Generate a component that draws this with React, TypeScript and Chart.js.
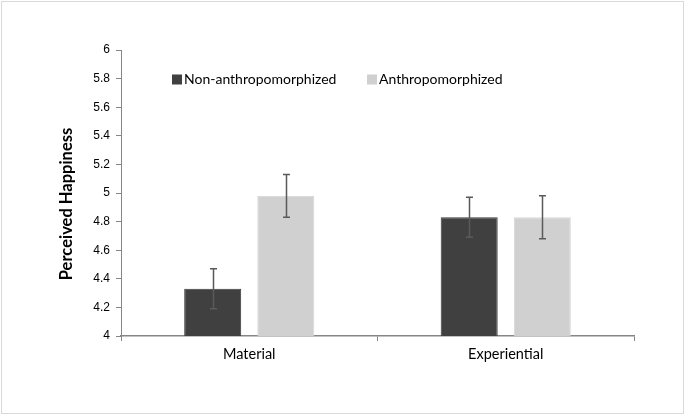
import React, { useEffect, useRef } from "react";
import { Chart, registerables } from "chart.js";

Chart.register(...registerables);

const categories = ["Material", "Experiential"];
const seriesNames = ["Non-anthropomorphized", "Anthropomorphized"];
const nonAnthro = [4.33, 4.83];
const anthro = [4.98, 4.83];
const nonAnthroLow = [4.19, 4.69];
const nonAnthroHigh = [4.47, 4.97];
const anthroLow = [4.83, 4.68];
const anthroHigh = [5.13, 4.98];
const yTicks = [4, 4.2, 4.4, 4.6, 4.8, 5, 5.2, 5.4, 5.6, 5.8, 6];
const yTitle = "Perceived Happiness";

const colors = ["#404040", "#d0d0d0"];
const errLow = [nonAnthroLow, anthroLow];
const errHigh = [nonAnthroHigh, anthroHigh];

const framePlugin = {
  id: "frame",
  beforeDraw(chart: any) {
    const ctx = chart.ctx;
    ctx.save();
    ctx.fillStyle = "#ffffff";
    ctx.fillRect(0, 0, chart.width, chart.height);
    ctx.strokeStyle = "#d9d9d9";
    ctx.lineWidth = 1;
    ctx.strokeRect(1.5, 1.5, chart.width - 3, chart.height - 3);
    ctx.restore();
  },
};

const errorBarPlugin = {
  id: "errorBars",
  afterDatasetsDraw(chart: any) {
    const ctx = chart.ctx;
    const yScale = chart.scales.y;
    ctx.save();
    ctx.strokeStyle = "#5a5a5a";
    ctx.lineWidth = 1.5;
    chart.data.datasets.forEach((ds: any, di: number) => {
      const meta = chart.getDatasetMeta(di);
      meta.data.forEach((bar: any, i: number) => {
        const x = Math.round(bar.x) + 0.5;
        const yt = yScale.getPixelForValue(errHigh[di][i]);
        const yb = yScale.getPixelForValue(errLow[di][i]);
        ctx.beginPath();
        ctx.moveTo(x, yt);
        ctx.lineTo(x, yb);
        ctx.moveTo(x - 3.5, yt);
        ctx.lineTo(x + 3.5, yt);
        ctx.moveTo(x - 3.5, yb);
        ctx.lineTo(x + 3.5, yb);
        ctx.stroke();
      });
    });
    ctx.restore();
  },
};

const legendPlugin = {
  id: "customLegend",
  afterDraw(chart: any) {
    const ctx = chart.ctx;
    ctx.save();
    ctx.font = "14px Lato";
    ctx.textBaseline = "middle";
    ctx.fillStyle = "#000000";
    const starts = [172, 367];
    const cy = 79.5;
    chart.data.datasets.forEach((ds: any, di: number) => {
      const x = starts[di];
      ctx.fillStyle = ds.backgroundColor;
      ctx.fillRect(x, cy - 5, 10, 10);
      ctx.fillStyle = "#000000";
      ctx.fillText(ds.label, x + 12, cy);
    });
    ctx.restore();
  },
};

const yTitlePlugin = {
  id: "yTitle",
  afterDraw(chart: any) {
    const ctx = chart.ctx;
    ctx.save();
    ctx.translate(67, 204);
    ctx.rotate(-Math.PI / 2);
    ctx.font = "bold 16.5px Lato";
    ctx.textAlign = "center";
    ctx.textBaseline = "middle";
    ctx.fillStyle = "#000000";
    ctx.fillText(yTitle, 0, 0);
    ctx.restore();
  },
};

export default function App() {
  const ref = useRef<HTMLCanvasElement>(null);
  useEffect(() => {
    document.body.style.margin = "0";
    const chart = new Chart(ref.current!, {
      type: "bar",
      data: {
        labels: categories,
        datasets: [
          {
            label: seriesNames[0],
            data: nonAnthro,
            backgroundColor: colors[0],
            borderColor: "#3a3a3a",
            borderWidth: 1,
            categoryPercentage: 0.57,
            barPercentage: 0.78,
          },
          {
            label: seriesNames[1],
            data: anthro,
            backgroundColor: colors[1],
            borderColor: "#d6d6d6",
            borderWidth: 1,
            categoryPercentage: 0.57,
            barPercentage: 0.78,
          },
        ],
      },
      options: {
        animation: false,
        responsive: false,
        devicePixelRatio: 1,
        layout: { padding: { top: 50, right: 51, left: 0, bottom: 0 } },
        plugins: {
          legend: { display: false },
          tooltip: { enabled: false },
        },
        scales: {
          x: {
            offset: true,
            grid: {
              offset: true,
              drawOnChartArea: false,
              drawTicks: true,
              tickLength: 5,
              color: "#868686",
            },
            border: { color: "#868686", width: 1.5 },
            ticks: {
              padding: 5,
              color: "#000000",
              font: { family: "Lato", size: 14.5 },
            },
            afterFit(scale: any) {
              scale.height = 79;
            },
          },
          y: {
            min: 4,
            max: 6,
            afterBuildTicks(scale: any) {
              scale.ticks = yTicks.map((v) => ({ value: v }));
            },
            grid: {
              drawOnChartArea: false,
              drawTicks: true,
              tickLength: 5,
              color: "#868686",
            },
            border: { color: "#868686", width: 1 },
            ticks: {
              padding: 6,
              color: "#000000",
              font: { family: "'Liberation Sans'", size: 12 },
              callback: (v: any) => String(Math.round(Number(v) * 10) / 10),
            },
            afterFit(scale: any) {
              scale.width = 121;
            },
          },
        },
      },
      plugins: [framePlugin, errorBarPlugin, legendPlugin, yTitlePlugin],
    });
    return () => chart.destroy();
  }, []);
  return <canvas ref={ref} width={685} height={415} style={{ display: "block" }} />;
}
